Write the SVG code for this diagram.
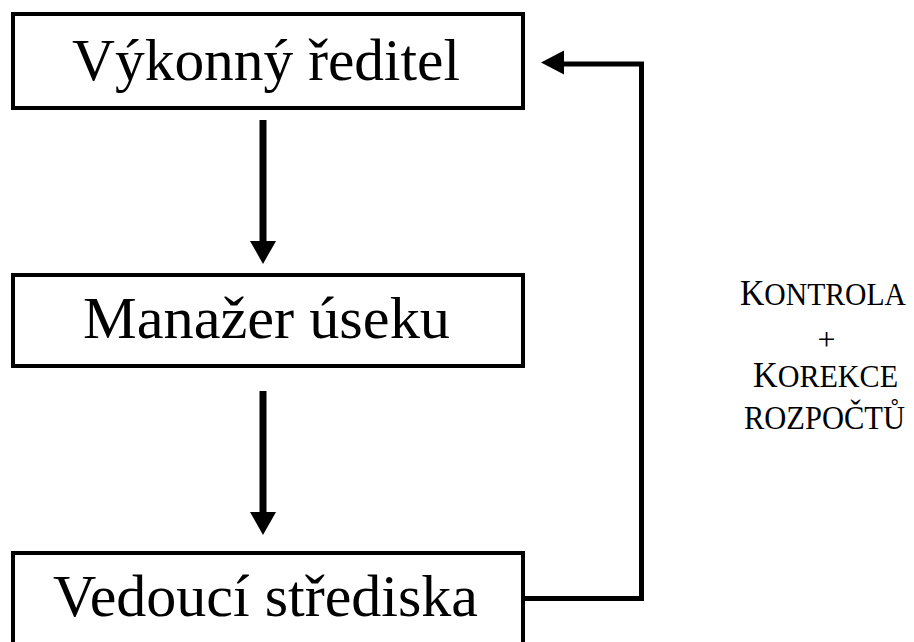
<svg xmlns="http://www.w3.org/2000/svg" width="914" height="642" viewBox="0 0 914 642">
<style>
.box{fill:#fff;stroke:#000;stroke-width:4}
.t{font-family:"Liberation Serif","Times New Roman",serif;font-size:59px;fill:#000}
.lbl{font-family:"Liberation Serif","Times New Roman",serif;fill:#000}
.ln{fill:none;stroke:#000}
.hd{fill:#000;stroke:none}
</style>
<rect width="914" height="642" fill="#fff"/>
<g id="vykonny-reditel">
<rect class="box" x="13" y="14" width="510" height="94"/>
<text class="t" x="72" y="80" textLength="388" lengthAdjust="spacingAndGlyphs">Výkonný ředitel</text>
</g>
<g id="manazer-useku">
<rect class="box" x="13" y="275" width="510" height="91"/>
<text class="t" x="83" y="338" textLength="367" lengthAdjust="spacingAndGlyphs">Manažer úseku</text>
</g>
<g id="vedouci-strediska">
<rect class="box" x="13" y="553" width="510" height="100"/>
<text class="t" x="53" y="616" textLength="425" lengthAdjust="spacingAndGlyphs">Vedoucí střediska</text>
</g>
<g id="connectors">
<line class="ln" x1="263" y1="120" x2="263" y2="244" stroke-width="7"/>
<polygon class="hd" points="250,241 276,241 263,264"/>
<line class="ln" x1="263" y1="391" x2="263" y2="515" stroke-width="7"/>
<polygon class="hd" points="250,512 276,512 263,535"/>
<path class="ln" d="M525,598.5 H641.5 V64 H560" stroke-width="5"/>
<polygon class="hd" points="541,62.5 564,50.5 564,74.5"/>
</g>
<g id="label">
<text class="lbl" transform="translate(740,305) scale(1,1.1)" x="0" y="0" textLength="166" lengthAdjust="spacingAndGlyphs"><tspan font-size="33">K</tspan><tspan font-size="29">ONTROLA</tspan></text>
<text class="lbl" x="826.5" y="350" font-size="32" text-anchor="middle">+</text>
<text class="lbl" transform="translate(753,387) scale(1,1.1)" x="0" y="0" textLength="145" lengthAdjust="spacingAndGlyphs"><tspan font-size="33">K</tspan><tspan font-size="29">OREKCE</tspan></text>
<text class="lbl" transform="translate(744,429) scale(1,1.1)" x="0" y="0" font-size="30" textLength="161" lengthAdjust="spacingAndGlyphs">ROZPOČTŮ</text>
</g>
</svg>
